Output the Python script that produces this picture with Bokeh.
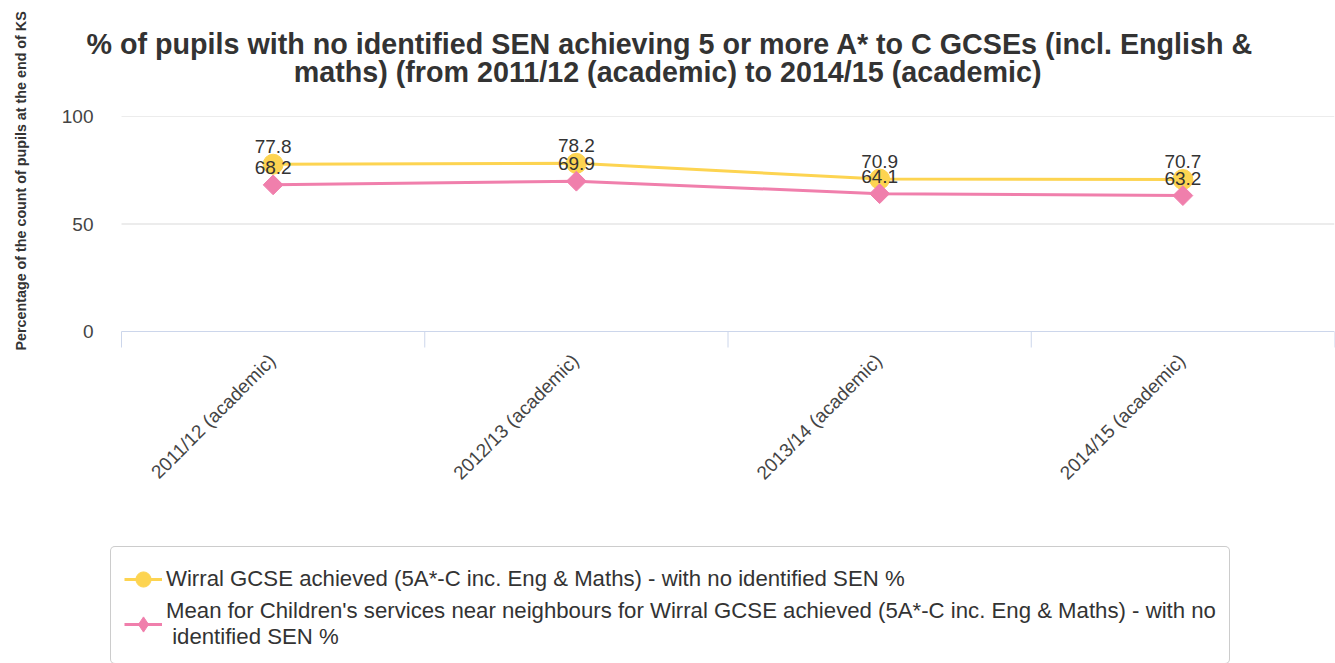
import numpy as np
from bokeh.plotting import figure
from bokeh.models import (Range1d, FixedTicker, Title, Legend, LegendItem,
                          ColumnDataSource, LabelSet)
from bokeh.core.properties import value
from bokeh.embed import file_html
from bokeh.resources import INLINE

categories = ["2011/12 (academic)", "2012/13 (academic)",
              "2013/14 (academic)", "2014/15 (academic)"]
wirral = [77.8, 78.2, 70.9, 70.7]
neighbours = [68.2, 69.9, 64.1, 63.2]
y_ticks = [0, 50, 100]
series_names = [
    "Wirral GCSE achieved (5A*-C inc. Eng & Maths) - with no identified SEN %",
    "Mean for Children's services near neighbours for Wirral GCSE achieved (5A*-C inc. Eng & Maths) - with no\n identified SEN %",
]
title_line1 = "% of pupils with no identified SEN achieving 5 or more A* to C GCSEs (incl. English &"
title_line2 = "maths) (from 2011/12 (academic) to 2014/15 (academic)"
y_title = "Percentage of the count of pupils at the end of KS"

FONT = "Liberation Sans"
YELLOW = "#fdd451"
PINK = "#f07fac"
TXT = "#333333"
AXIS_COL = "#ccd6eb"
GRID_COL = "#d9d9d9"

# layout geometry (pixels)
LEFT_SHIFT = 30
W, H = 1335, 663
FRAME_LEFT, PLOT_LEFT, PLOT_RIGHT = 104, 121, 1334
FRAME_TOP, ZERO_PX = 116, 331
TICK_LEN = 16

n = len(categories)
xpos = [2 * i + 1 for i in range(n)]
bounds = [2 * i for i in range(n + 1)]
x_end = 2 * n
px_per_x = (PLOT_RIGHT - PLOT_LEFT) / x_end
px_per_y = (ZERO_PX - FRAME_TOP) / max(y_ticks)
x_start = -(PLOT_LEFT - FRAME_LEFT) / px_per_x
y_start = max(y_ticks) - (H - FRAME_TOP) / px_per_y

p = figure(width=W + LEFT_SHIFT, height=H, output_backend="svg", toolbar_location=None,
           x_range=Range1d(x_start, x_end), y_range=Range1d(y_start, max(y_ticks)),
           x_axis_location=None,
           min_border_left=FRAME_LEFT + LEFT_SHIFT, min_border_right=W - PLOT_RIGHT,
           min_border_top=FRAME_TOP, min_border_bottom=0,
           margin=(0, 0, 0, -LEFT_SHIFT))
p.outline_line_color = None
p.background_fill_color = "white"
p.border_fill_color = "white"
p.grid.visible = False

# title (two centred lines)
pad = "\u00a0" * 26
p.title.text = title_line1 + "\n" + pad + title_line2
p.title.align = "left"
p.title.offset = 86 - FRAME_LEFT
p.title.vertical_align = "top"
p.title.text_font = FONT
p.title.text_font_size = "28.7px"
p.title.text_font_style = "bold"
p.title.text_color = TXT
p.title.standoff = 52
try:
    p.title.text_line_height = 0.9
except Exception:
    pass

# y axis
yax = p.yaxis[0]
yax.ticker = FixedTicker(ticks=y_ticks)
yax.axis_line_color = None
yax.major_tick_line_color = None
yax.minor_tick_line_color = None
yax.major_tick_out = 0
yax.major_tick_in = 0
yax.major_label_standoff = FRAME_LEFT - 93
yax.major_label_text_font = FONT
yax.major_label_text_font_size = "19px"
yax.major_label_text_color = "#444444"

# left axis title
p.add_layout(Title(text=y_title, align="left", offset=H - 350, vertical_align="bottom",
                   text_font=FONT, text_font_size="14.3px", text_font_style="bold",
                   text_color=TXT, standoff=60), "left")

# horizontal grid lines and category axis line
grid_y = [t for t in y_ticks if t != 0]
p.segment(x0=[0] * len(grid_y), x1=[x_end] * len(grid_y), y0=grid_y, y1=grid_y,
          line_color=GRID_COL, line_width=1)
p.segment(x0=[0], x1=[x_end], y0=[0], y1=[0], line_color=AXIS_COL, line_width=1)
# category boundary tick marks
p.segment(x0=bounds, x1=bounds, y0=[0] * len(bounds),
          y1=[-TICK_LEN / px_per_y] * len(bounds), line_color=AXIS_COL, line_width=1)

# category labels
cat_src = ColumnDataSource(dict(x=xpos, y=[0] * n, t=categories))
p.add_layout(LabelSet(x="x", y="y", text="t", source=cat_src, angle=np.pi / 4,
                      x_offset=-1, y_offset=-26, text_align="right",
                      text_baseline="middle", text_font=value(FONT),
                      text_font_size=value("19px"), text_color="#444444"))

# series
src1 = ColumnDataSource(dict(x=xpos, y=wirral, t=[f"{v:.1f}" for v in wirral]))
src2 = ColumnDataSource(dict(x=xpos, y=neighbours, t=[f"{v:.1f}" for v in neighbours]))

l1 = p.line("x", "y", source=src1, line_color=YELLOW, line_width=3)
s1 = p.scatter("x", "y", source=src1, marker="circle", size=20,
               fill_color=YELLOW, line_color=YELLOW)
l2 = p.line("x", "y", source=src2, line_color=PINK, line_width=3)
s2 = p.scatter("x", "y", source=src2, marker="square", size=14, angle=np.pi / 4,
               fill_color=PINK, line_color=PINK)
# legend symbol for the second series (legend symbols are never rotated)
s2_key = p.scatter("x", "y", source=src2, marker="diamond", size=20,
                   fill_color=PINK, line_color=PINK, visible=False)

for src in (src1, src2):
    p.add_layout(LabelSet(x="x", y="y", text="t", source=src, y_offset=11,
                          text_align="center", text_baseline="bottom",
                          text_font=value(FONT), text_font_size=value("19px"),
                          text_color=TXT))

legend = Legend(items=[LegendItem(label=series_names[0], renderers=[l1, s1]),
                       LegendItem(label=series_names[1], renderers=[l2, s2_key])],
                location=(110 - FRAME_LEFT, -1), orientation="vertical",
                border_line_color="#999999", border_line_width=1,
                padding=13, spacing=0, glyph_width=38, glyph_height=38,
                label_standoff=4, label_text_font=FONT, label_text_font_size="22.2px",
                label_text_color=TXT, background_fill_alpha=1, margin=0)
try:
    legend.border_radius = 5
except Exception:
    pass
p.add_layout(legend, "center")

open("out.html", "w").write(file_html(p, INLINE))
